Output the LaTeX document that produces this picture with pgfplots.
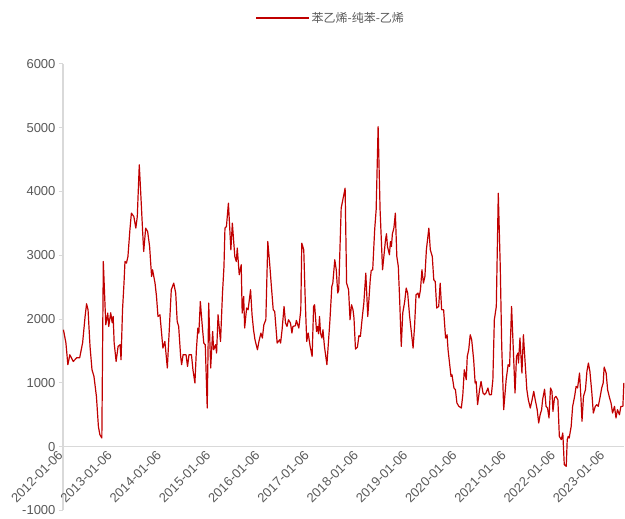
\documentclass[border=0pt]{standalone}
\usepackage{fontspec}
\setmainfont{Liberation Sans}
\newfontfamily\cjk{Noto Sans CJK SC}
\usepackage{pgfplots}
\pgfplotsset{compat=1.18}
\definecolor{linered}{HTML}{C00000}
\definecolor{axisgray}{HTML}{D9D9D9}
\definecolor{textgray}{HTML}{595959}
\begin{document}
\begin{tikzpicture}
\begin{axis}[
  scale only axis, width=562pt, height=447pt,
  xmin=2012, xmax=2023.4, ymin=-1000, ymax=6000,
  axis x line=middle, axis y line=left,
  axis line style={draw=axisgray, line width=1.3pt, -},
  hide obscured x ticks=false, hide obscured y ticks=false,
  xtick={2012,2013,2014,2015,2016,2017,2018,2019,2020,2021,2022,2023},
  xticklabels={2012-01-06,2013-01-06,2014-01-06,2015-01-06,2016-01-06,2017-01-06,2018-01-06,2019-01-06,2020-01-06,2021-01-06,2022-01-06,2023-01-06},
  x tick style={draw=none},
  xticklabel style={rotate=45, anchor=east, font=\fontsize{13}{15}\selectfont, text=textgray},
  ytick={-1000,0,1000,2000,3000,4000,5000,6000},
  y tick style={draw=axisgray, line width=1pt},
  tick align=outside, major tick length=4pt,
  yticklabel style={font=\fontsize{13}{15}\selectfont, text=textgray},
  /pgf/number format/assume math mode=true,
  /pgf/number format/1000 sep={},
  legend style={draw=none, fill=none, at={(axis description cs:0.477,1.103)}, anchor=center,
    font=\cjk\fontsize{12}{14}\selectfont, text=textgray},
  legend image code/.code={\draw[#1] (0pt,0pt) -- (53pt,0pt);},
]
\addplot[linered, line width=1.2pt, line join=round] table {
x y
2012.01 1833
2012.06 1630
2012.10 1285
2012.14 1440
2012.21 1336
2012.28 1394
2012.34 1394
2012.40 1630
2012.45 2041
2012.48 2240
2012.51 2146
2012.55 1572
2012.59 1206
2012.63 1102
2012.68 788
2012.72 318
2012.75 188
2012.79 136
2012.82 2903
2012.87 1911
2012.91 2094
2012.93 1885
2012.97 2099
2013.00 1943
2013.02 2041
2013.04 1630
2013.08 1336
2013.12 1572
2013.16 1598
2013.18 1363
2013.21 2146
2013.24 2564
2013.26 2903
2013.29 2877
2013.32 2981
2013.36 3400
2013.39 3661
2013.44 3608
2013.48 3426
2013.51 3608
2013.55 4418
2013.58 3974
2013.62 3348
2013.64 3060
2013.68 3426
2013.72 3373
2013.76 3138
2013.80 2668
2013.82 2773
2013.87 2564
2013.90 2355
2013.93 2041
2013.97 2068
2014.00 1806
2014.03 1546
2014.07 1650
2014.12 1233
2014.20 2460
2014.25 2564
2014.29 2408
2014.32 1963
2014.35 1885
2014.39 1415
2014.41 1285
2014.44 1441
2014.50 1441
2014.53 1258
2014.56 1441
2014.61 1441
2014.64 1206
2014.68 998
2014.71 1520
2014.74 1860
2014.76 1781
2014.79 2276
2014.83 1885
2014.86 1624
2014.89 1598
2014.93 606
2014.96 2251
2015.00 1233
2015.04 1806
2015.06 1520
2015.10 1598
2015.12 1468
2015.15 2068
2015.20 1650
2015.24 2408
2015.27 2825
2015.29 3426
2015.32 3452
2015.36 3818
2015.41 3086
2015.44 3504
2015.49 2981
2015.52 2903
2015.54 3113
2015.58 2695
2015.62 2851
2015.64 2094
2015.67 2355
2015.69 1860
2015.73 2173
2015.76 2146
2015.81 2460
2015.84 2068
2015.87 1833
2015.90 1676
2015.95 1520
2015.98 1650
2016.02 1781
2016.05 1703
2016.08 1911
2016.12 1990
2016.16 3216
2016.20 2850
2016.23 2540
2016.27 2146
2016.30 2120
2016.35 1624
2016.40 1676
2016.42 1624
2016.45 1833
2016.49 2198
2016.52 1938
2016.55 1885
2016.58 1990
2016.62 1938
2016.65 1781
2016.67 1885
2016.72 1896
2016.74 1979
2016.79 1860
2016.83 2146
2016.85 3191
2016.89 3086
2016.92 2303
2016.95 1650
2016.98 1781
2017.02 1572
2017.06 1415
2017.09 2198
2017.11 2225
2017.15 1806
2017.17 1885
2017.19 1770
2017.21 2041
2017.23 1781
2017.26 1703
2017.28 1833
2017.31 1572
2017.36 1285
2017.42 1963
2017.46 2511
2017.48 2564
2017.52 2930
2017.55 2773
2017.58 2408
2017.60 2460
2017.65 3740
2017.69 3896
2017.73 4053
2017.76 2564
2017.80 2460
2017.83 1990
2017.86 2225
2017.89 2146
2017.91 2016
2017.94 1530
2017.98 1562
2018.01 1739
2018.04 1728
2018.08 2041
2018.11 2251
2018.15 2721
2018.19 2041
2018.24 2616
2018.26 2762
2018.29 2773
2018.33 3400
2018.36 3713
2018.40 5018
2018.44 3713
2018.49 2773
2018.51 2930
2018.55 3243
2018.57 3337
2018.59 3138
2018.63 3008
2018.65 3216
2018.67 3138
2018.69 3337
2018.72 3426
2018.75 3661
2018.78 2981
2018.81 2825
2018.84 2251
2018.87 1572
2018.90 2094
2018.94 2277
2018.97 2486
2019.00 2408
2019.04 2041
2019.07 1833
2019.11 1546
2019.14 1885
2019.17 2381
2019.21 2408
2019.23 2330
2019.26 2460
2019.29 2773
2019.32 2564
2019.35 2668
2019.38 3086
2019.43 3426
2019.46 3086
2019.50 2981
2019.53 2616
2019.56 2590
2019.59 2173
2019.63 2198
2019.66 2564
2019.69 2146
2019.73 2146
2019.77 1703
2019.80 1755
2019.82 1520
2019.85 1311
2019.88 1102
2019.90 1128
2019.94 920
2019.97 893
2020.00 685
2020.04 632
2020.09 606
2020.12 815
2020.15 1206
2020.19 1050
2020.21 1415
2020.24 1520
2020.27 1755
2020.30 1676
2020.34 1363
2020.37 998
2020.39 1023
2020.42 660
2020.46 893
2020.49 1023
2020.53 841
2020.56 815
2020.59 841
2020.63 920
2020.66 815
2020.70 815
2020.73 1050
2020.76 1990
2020.80 2198
2020.84 3974
2020.88 2825
2020.91 1572
2020.95 580
2021.00 1050
2021.04 1285
2021.07 1258
2021.11 2198
2021.14 1624
2021.18 841
2021.21 1415
2021.24 1468
2021.25 1311
2021.28 1703
2021.32 1154
2021.35 1755
2021.39 1258
2021.42 893
2021.45 736
2021.49 606
2021.52 710
2021.56 867
2021.59 736
2021.63 580
2021.66 371
2021.69 501
2021.72 580
2021.74 736
2021.78 900
2021.81 632
2021.84 606
2021.87 450
2021.90 920
2021.93 867
2021.95 553
2021.98 763
2022.01 788
2022.05 736
2022.08 161
2022.12 110
2022.15 215
2022.18 -282
2022.22 -308
2022.24 110
2022.26 161
2022.28 136
2022.32 318
2022.35 632
2022.39 788
2022.42 945
2022.45 920
2022.49 1154
2022.52 736
2022.54 397
2022.57 788
2022.61 893
2022.64 1181
2022.67 1311
2022.70 1181
2022.74 841
2022.77 527
2022.81 632
2022.84 658
2022.87 632
2022.91 788
2022.94 920
2022.97 998
2022.99 1249
2023.03 1154
2023.06 893
2023.10 763
2023.13 685
2023.16 527
2023.20 632
2023.23 450
2023.26 580
2023.30 501
2023.33 632
2023.37 632
2023.39 1000
};
\addlegendentry{苯乙烯-纯苯-乙烯}
\end{axis}
\path[use as bounding box] ([shift={(-63pt,-5pt)}]current axis.south west) rectangle ([shift={(0pt,64pt)}]current axis.north east);
\end{tikzpicture}
\end{document}
